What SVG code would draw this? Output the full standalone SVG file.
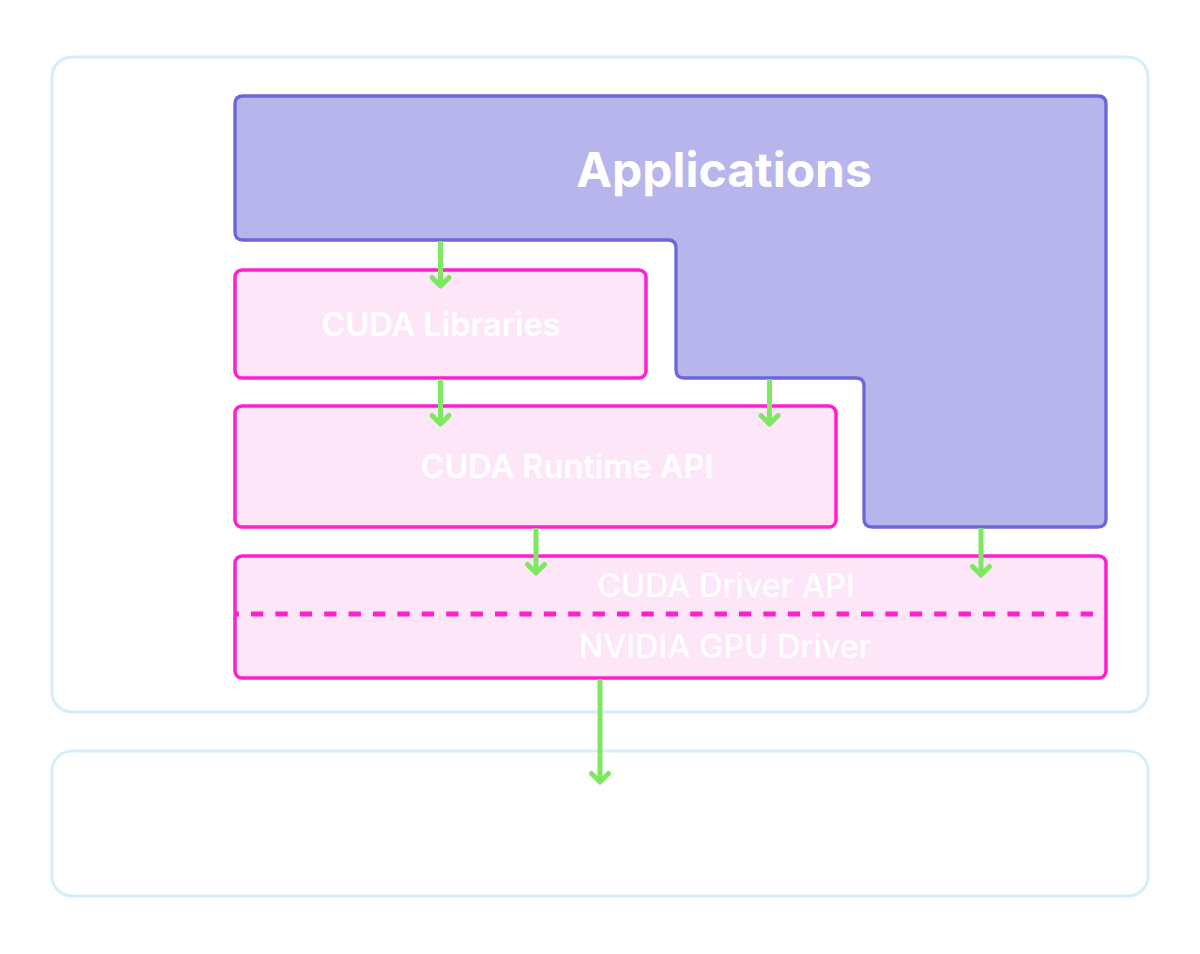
<svg xmlns="http://www.w3.org/2000/svg" width="1200" height="954" viewBox="0 0 1200 954">
<style>
.outer{fill:#ffffff;stroke:#d6eefc;stroke-width:3}
.pink{fill:#fde6f8;stroke:#ff1fcf;stroke-width:3.5}
.app{fill:#b7b5eb;stroke:#6c66d9;stroke-width:3.3}
.lbl{fill:#ffffff;font-family:Inter,"Liberation Sans",sans-serif;text-anchor:middle}
.conn{stroke:#7ee860;stroke-width:5;fill:none}
</style>
<defs>
<marker id="arr" viewBox="-12 -12 24 24" markerWidth="24" markerHeight="24" markerUnits="userSpaceOnUse" refX="0" refY="0" orient="auto" overflow="visible">
<path d="M-8.5,-8.5 L0,0 L-8.5,8.5" fill="none" stroke="#7ee860" stroke-width="5" stroke-linecap="round" stroke-linejoin="round"/>
</marker>
</defs>
<rect width="1200" height="954" fill="#ffffff"/>
<g id="software-layer"><rect class="outer" x="52" y="57" width="1096" height="655" rx="20"/></g>
<g id="hardware-layer"><rect class="outer" x="52" y="751" width="1096" height="145" rx="20"/></g>
<g id="applications">
<path class="app" d="M243,96 H1098 Q1106,96 1106,104 V519 Q1106,527 1098,527 H872 Q864,527 864,519 V386 Q864,378 856,378 H684 Q676,378 676,370 V248 Q676,240 668,240 H243 Q235,240 235,232 V104 Q235,96 243,96 Z"/>
<text class="lbl" x="724" y="187" font-size="48" font-weight="700">Applications</text>
</g>
<g id="cuda-libraries">
<rect class="pink" x="235" y="270" width="411" height="108" rx="7"/>
<text class="lbl" x="441" y="336" font-size="32.5" font-weight="600">CUDA Libraries</text>
</g>
<g id="cuda-runtime-api">
<rect class="pink" x="235" y="406" width="601" height="121" rx="7"/>
<text class="lbl" x="567" y="478" font-size="32.5" font-weight="600">CUDA Runtime API</text>
</g>
<g id="cuda-driver">
<rect class="pink" x="235" y="556" width="871" height="122" rx="7"/>
<line x1="235" y1="614" x2="1105" y2="614" stroke="#ff1fcf" stroke-width="5" stroke-dasharray="12.3 12.1" stroke-dashoffset="8.4"/>
<text class="lbl" x="726" y="597" font-size="32.5" font-weight="500">CUDA Driver API</text>
<text class="lbl" x="725" y="658" font-size="32.5" font-weight="500">NVIDIA GPU Driver</text>
</g>
<g id="connectors">
<line class="conn" x1="440.5" y1="241" x2="440.5" y2="286" marker-end="url(#arr)"/>
<line class="conn" x1="440.5" y1="379" x2="440.5" y2="424" marker-end="url(#arr)"/>
<line class="conn" x1="769.5" y1="379" x2="769.5" y2="424" marker-end="url(#arr)"/>
<line class="conn" x1="536" y1="528" x2="536" y2="573" marker-end="url(#arr)"/>
<line class="conn" x1="981" y1="528" x2="981" y2="575" marker-end="url(#arr)"/>
<line class="conn" x1="600" y1="679" x2="600" y2="782" marker-end="url(#arr)"/>
</g>
</svg>
